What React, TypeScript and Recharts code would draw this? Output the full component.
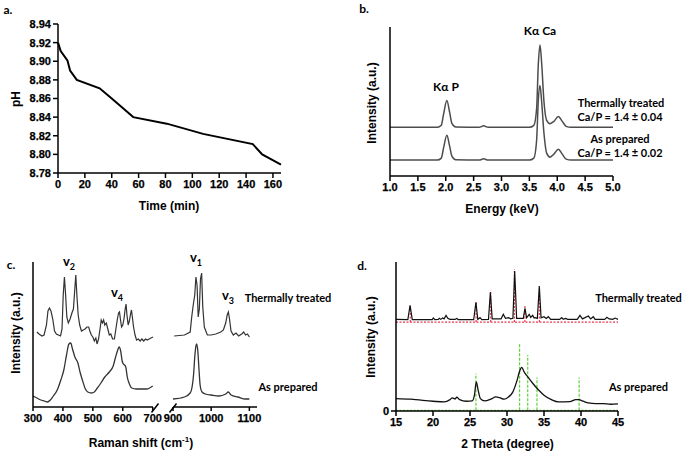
import React from 'react';
import { LineChart, Line, XAxis, YAxis, ReferenceLine } from 'recharts';

// ---------- Panel a: pH vs time ----------
const phTime = [0, 2, 7, 9, 14, 31, 40, 48, 56, 81, 108, 145, 152, 166];
const phValue = [8.92, 8.911, 8.901, 8.89, 8.88, 8.871, 8.86, 8.85, 8.84, 8.833, 8.822, 8.811, 8.8, 8.789];
const phTicks = [8.78, 8.8, 8.82, 8.84, 8.86, 8.88, 8.9, 8.92, 8.94];
const timeTicks = [0, 20, 40, 60, 80, 100, 120, 140, 160];

// ---------- Panel b: EDS ----------
const edsEnergyTT = [1.0, 1.85, 1.92, 1.96, 2.02, 2.07, 2.11, 2.18, 2.6, 2.68, 2.76, 3.5, 3.58, 3.63, 3.66, 3.69, 3.72, 3.76, 3.81, 3.87, 3.94, 4.02, 4.09, 4.16, 4.25, 5.0];
const edsValueTT = [49, 49, 51, 62, 76, 64, 53, 49.3, 49, 50.5, 49, 49, 51, 68, 112, 132, 114, 76, 56, 52.7, 55, 60, 55, 50, 49, 49];
const edsEnergyAP = [1.0, 1.85, 1.92, 1.96, 2.02, 2.07, 2.11, 2.18, 2.6, 2.68, 2.76, 3.5, 3.58, 3.63, 3.66, 3.69, 3.72, 3.76, 3.81, 3.87, 3.94, 4.02, 4.09, 4.16, 4.25, 5.0];
const edsValueAP = [16, 16, 18, 28, 41, 30, 20, 16.3, 16, 17.3, 16, 16, 18, 36, 76, 91, 75, 44, 23, 19, 22, 27, 22, 17, 16, 16];
const energyTicks = [1, 1.5, 2, 2.5, 3, 3.5, 4, 4.5, 5];

// ---------- Panel c: Raman ----------
const ramanShiftTTLow = [313, 320, 330, 337, 345, 350, 355, 360, 366, 372, 378, 385, 392, 397, 401, 405, 409, 413, 418, 424, 430, 435, 439, 443, 447, 451, 456, 462, 468, 474, 480, 486, 490, 495, 500, 505, 510, 514, 519, 524, 528, 532, 536, 540, 545, 550, 555, 560, 566, 572, 577, 582, 586, 589, 592, 596, 600, 604, 608, 611, 614, 618, 622, 626, 629, 632, 636, 641, 646, 652, 658, 664, 670, 676, 682, 688, 694, 701];
const ramanValueTTLow = [75, 73, 71, 72, 82, 96, 99, 96, 88, 76, 73, 72, 71, 78, 112, 130, 112, 90, 84, 88, 94, 98, 115, 132, 110, 92, 82, 76, 77, 78, 80, 80, 76, 72, 70, 66, 69, 63, 68, 78, 87, 84, 87, 82, 84, 78, 72, 73, 68, 68, 78, 88, 94, 95, 88, 80, 82, 88, 98, 103, 92, 82, 86, 93, 97, 90, 80, 72, 67, 68, 66, 68, 66, 68, 67, 68, 69, 70];
const ramanShiftAPLow = [300, 313, 326, 338, 348, 358, 368, 381, 393, 403, 412, 420, 426, 432, 440, 450, 458, 466, 475, 483, 495, 505, 515, 527, 540, 555, 568, 576, 582, 588, 593, 598, 602, 606, 610, 615, 621, 630, 645, 660, 680, 700];
const ramanValueAPLow = [11, 9, 7, 6, 5, 7, 11, 17, 27, 37, 52, 63, 64, 58, 50, 44, 34, 26, 18, 15, 14, 15, 19, 24, 30, 35, 41, 50, 56, 60, 56, 46, 43, 42, 40, 30, 24, 19, 18, 18, 18, 21];
const ramanShiftTTHigh = [903, 930, 945, 949, 953, 957, 960, 963, 966, 969, 972, 975, 978, 982, 990, 1000, 1012, 1025, 1032, 1038, 1042, 1045, 1048, 1052, 1058, 1065, 1072, 1080, 1085, 1090, 1095, 1100];
const ramanValueTTHigh = [71, 72, 75, 90, 102, 112, 130, 122, 90, 98, 128, 134, 100, 80, 72, 72, 73, 75, 77, 84, 92, 95, 88, 76, 72, 74, 71, 73, 75, 72, 73, 70];
const ramanShiftAPHigh = [900, 930, 945, 950, 954, 957, 960, 962, 965, 968, 971, 976, 985, 1000, 1020, 1038, 1045, 1052, 1070, 1090, 1100];
const ramanValueAPHigh = [8, 10, 14, 20, 33, 50, 61, 63, 56, 38, 22, 15, 13, 12, 11, 13, 15, 12, 10, 8, 8];
const ramanTicksLow = [300, 400, 500, 600, 700];
const ramanTicksHigh = [900, 1000, 1100];

// ---------- Panel d: XRD ----------
const xrdAngleTT = [15, 16.6, 16.9, 17.2, 19.9, 20.05, 20.25, 20.7, 20.86, 21.05, 21.3, 21.5, 21.76, 22.0, 22.3, 23.0, 23.2, 23.4, 25.5, 25.8, 26.05, 26.35, 26.6, 27.5, 27.75, 28.0, 29.2, 29.5, 29.8, 30.2, 30.5, 30.8, 31.04, 31.3, 32.2, 32.43, 32.65, 33.0, 33.2, 33.47, 33.65, 33.8, 34.1, 34.37, 34.6, 35.0, 35.3, 35.58, 35.9, 37.1, 37.4, 37.6, 37.9, 38.2, 39.5, 39.86, 40.2, 40.99, 41.3, 41.66, 41.9, 43.2, 43.5, 43.8, 44.3, 44.6, 45];
const xrdValueTT = [91, 90.8, 105, 90.8, 90.8, 92.5, 90.8, 91, 92, 91, 92.3, 91.5, 95, 92, 91, 91, 92, 90.8, 90.8, 108, 91, 92.7, 90.8, 91, 118, 91.5, 91.5, 96, 92, 92.7, 91.5, 92, 139, 92, 92, 102, 92.5, 96, 93, 95, 92.5, 92.7, 92, 124, 92.5, 93.7, 92, 93.7, 91, 91, 92.7, 91, 92, 91, 91, 95, 91.5, 94.3, 91.5, 93.7, 91, 91, 93, 91.5, 91, 92.3, 91];
const xrdAngleAP = [15, 17, 20, 21.5, 22.3, 22.6, 23, 23.2, 23.6, 24.5, 25.3, 25.6, 25.85, 26.1, 26.4, 27, 27.8, 28.5, 29, 29.6, 30.2, 30.8, 31.3, 31.8, 32, 32.3, 32.8, 33.5, 34.2, 35, 36, 37, 38.5, 39.3, 39.7, 40.3, 41, 42, 43, 44, 45];
const xrdValueAP = [12.3, 11.7, 9.7, 9, 11.3, 13, 12, 13.7, 11.3, 9.7, 10, 15.7, 29, 20.7, 12.3, 10, 11.7, 14, 13.3, 11.7, 14, 19, 29, 41.3, 43.3, 39, 34, 27.3, 21.3, 15.7, 11.3, 9, 9.3, 11.3, 11.3, 9.7, 8, 7.3, 7.3, 6.7, 7];
const refTTAngle = [16.93, 25.82, 27.8, 31.0, 32.42, 34.37];
const refTTHeight = [105, 108, 120, 141, 105, 124];
const refTTBase = 88.3;
const refAPAngle = [25.8, 31.7, 32.8, 34.05, 39.75];
const refAPHeight = [37.3, 67.3, 55.7, 33.3, 33.3];
const refAPBase = 0.7;
const thetaTicks = [15, 20, 25, 30, 35, 40, 45];

const toPts = (xs: number[], ys: number[]) => xs.map((x, i) => ({ x, y: ys[i] }));

const ARIAL = '"Liberation Sans", Arial, sans-serif';
const LATO = 'Lato, "Open Sans", sans-serif';
const AXL = { stroke: '#000', strokeWidth: 1.5 };

function BoldTick(props: any) {
  const { x, y, payload, textAnchor, verticalAnchor, digits } = props;
  const v = payload?.value;
  const label = typeof digits === 'number' ? Number(v).toFixed(digits) : String(v);
  const dy = verticalAnchor === 'start' ? '0.74em' : verticalAnchor === 'end' ? '0' : '0.36em';
  return (
    <text x={x} y={y} dy={dy} textAnchor={textAnchor} fontWeight="bold" style={{ fontFamily: ARIAL, fontWeight: 700, fontSize: 11, fill: '#000', stroke: '#000', strokeWidth: 0.25 }}>
      {label}
    </text>
  );
}

function Txt({ x, y, size = 11, font = LATO, rotate = false, children }: any) {
  return (
    <div
      style={{
        position: 'absolute',
        left: x,
        top: y,
        transform: `translate(-50%, -50%)${rotate ? ' rotate(-90deg)' : ''}`,
        fontFamily: font,
        fontWeight: 700,
        fontSize: size,
        lineHeight: 1,
        whiteSpace: 'nowrap',
        color: '#000',
      }}
    >
      {children}
    </div>
  );
}

function Box({ left, top, children }: any) {
  return <div style={{ position: 'absolute', left, top }}>{children}</div>;
}

export default function App() {
  const phData = toPts(phTime, phValue);
  return (
    <div style={{ position: 'absolute', left: 0, top: 0, width: 685, height: 455, background: '#fff', overflow: 'hidden' }}>
      {/* Panel a */}
      <Box left={0} top={0}>
        <LineChart width={300} height={230} margin={{ top: 24, right: 19, bottom: 27, left: 0 }}>
          <XAxis dataKey="x" type="number" domain={[0, 166]} ticks={timeTicks} interval={0} height={30} tick={<BoldTick />} tickSize={5} tickMargin={2} axisLine={AXL} tickLine={AXL} />
          <YAxis type="number" domain={[8.78, 8.94]} ticks={phTicks} interval={0} width={58} tick={<BoldTick digits={2} />} tickSize={5} tickMargin={2} axisLine={AXL} tickLine={AXL} />
          <Line data={phData} dataKey="y" type="linear" stroke="#000" strokeWidth={2} dot={false} isAnimationActive={false} />
        </LineChart>
      </Box>

      {/* Panel b */}
      <Box left={340} top={0}>
        <LineChart width={345} height={230} margin={{ top: 27, right: 72, bottom: 24, left: 0 }}>
          <XAxis dataKey="x" type="number" domain={[1, 5]} ticks={energyTicks} interval={0} height={30} tick={<BoldTick digits={1} />} tickSize={5} tickMargin={2} axisLine={AXL} tickLine={AXL} />
          <YAxis type="number" domain={[0, 150]} width={50} tick={false} tickLine={false} axisLine={AXL} />
          <Line data={toPts(edsEnergyTT, edsValueTT)} dataKey="y" type="monotone" stroke="#4d4d4d" strokeWidth={1.5} dot={false} isAnimationActive={false} />
          <Line data={toPts(edsEnergyAP, edsValueAP)} dataKey="y" type="monotone" stroke="#4d4d4d" strokeWidth={1.5} dot={false} isAnimationActive={false} />
        </LineChart>
      </Box>

      {/* Panel c left */}
      <Box left={0} top={230}>
        <LineChart width={168} height={225} margin={{ top: 32, right: 15, bottom: 18, left: 0 }}>
          <XAxis dataKey="x" type="number" domain={[300, 700]} ticks={ramanTicksLow} interval={0} height={30} tick={<BoldTick />} tickSize={4} tickMargin={3} axisLine={AXL} tickLine={AXL} />
          <YAxis type="number" domain={[0, 145]} width={33} tick={false} tickLine={false} axisLine={AXL} />
          <Line data={toPts(ramanShiftTTLow, ramanValueTTLow)} dataKey="y" type="linear" stroke="#333" strokeWidth={1.2} dot={false} isAnimationActive={false} />
          <Line data={toPts(ramanShiftAPLow, ramanValueAPLow)} dataKey="y" type="monotone" stroke="#333" strokeWidth={1.3} dot={false} isAnimationActive={false} />
        </LineChart>
      </Box>
      {/* Panel c right */}
      <Box left={160} top={230}>
        <LineChart width={125} height={225} margin={{ top: 32, right: 28, bottom: 18, left: 13 }}>
          <XAxis dataKey="x" type="number" domain={[900, 1120]} ticks={ramanTicksHigh} interval={0} height={30} tick={<BoldTick />} tickSize={4} tickMargin={3} axisLine={AXL} tickLine={AXL} />
          <YAxis type="number" domain={[0, 145]} hide />
          <Line data={toPts(ramanShiftTTHigh, ramanValueTTHigh)} dataKey="y" type="linear" stroke="#333" strokeWidth={1.2} dot={false} isAnimationActive={false} />
          <Line data={toPts(ramanShiftAPHigh, ramanValueAPHigh)} dataKey="y" type="monotone" stroke="#333" strokeWidth={1.3} dot={false} isAnimationActive={false} />
        </LineChart>
      </Box>
      <svg width={685} height={455} style={{ position: 'absolute', left: 0, top: 0, pointerEvents: 'none' }}>
        <line x1={151.5} y1={412.5} x2={158.5} y2={403.5} stroke="#000" strokeWidth={1.5} />
        <line x1={169.5} y1={412.5} x2={176.5} y2={403.5} stroke="#000" strokeWidth={1.5} />
      </svg>

      {/* Panel d */}
      <Box left={340} top={230}>
        <LineChart width={345} height={225} margin={{ top: 32, right: 67, bottom: 14, left: 0 }}>
          <XAxis dataKey="x" type="number" domain={[15, 45]} ticks={thetaTicks} interval={0} height={30} tick={<BoldTick />} tickSize={5} tickMargin={2} axisLine={AXL} tickLine={AXL} />
          <YAxis type="number" domain={[0, 148]} ticks={[0]} interval={0} width={56} tick={<BoldTick />} tickSize={5} tickMargin={2} axisLine={AXL} tickLine={AXL} />
          <ReferenceLine y={refTTBase} stroke="#e8394d" strokeWidth={1.2} strokeDasharray="2 1.5" />
          <ReferenceLine y={refAPBase} stroke="#5fd43a" strokeWidth={1.2} strokeDasharray="2 1.5" />
          {refTTAngle.map((a, i) => (
            <ReferenceLine key={'r' + i} segment={[{ x: a, y: refTTBase }, { x: a, y: refTTHeight[i] }]} stroke="#e8394d" strokeWidth={1.2} strokeDasharray="2 1.5" />
          ))}
          {refAPAngle.map((a, i) => (
            <ReferenceLine key={'g' + i} segment={[{ x: a, y: refAPBase }, { x: a, y: refAPHeight[i] }]} stroke="#5fd43a" strokeWidth={1.2} strokeDasharray="3 1.5" />
          ))}
          <Line data={toPts(xrdAngleTT, xrdValueTT)} dataKey="y" type="linear" stroke="#111" strokeWidth={1.2} dot={false} isAnimationActive={false} />
          <Line data={toPts(xrdAngleAP, xrdValueAP)} dataKey="y" type="monotone" stroke="#111" strokeWidth={1.3} dot={false} isAnimationActive={false} />
        </LineChart>
      </Box>

      {/* Texts panel a */}
      <Txt x={8} y={10} size={12}>a.</Txt>
      <Txt x={16} y={99} size={12} font={ARIAL} rotate>pH</Txt>
      <Txt x={169} y={206} size={12} font={ARIAL}>Time (min)</Txt>

      {/* Texts panel b */}
      <Txt x={364} y={9} size={12}>b.</Txt>
      <Txt x={372} y={103} size={12} font={ARIAL} rotate>Intensity (a.u.)</Txt>
      <Txt x={446} y={87} size={12}>Kα P</Txt>
      <Txt x={540} y={31} size={12}>Kα Ca</Txt>
      <Txt x={621} y={102} size={11}>Thermally treated</Txt>
      <Txt x={620} y={115.5} size={11}>Ca/P = 1.4 ± 0.04</Txt>
      <Txt x={620} y={138} size={11}>As prepared</Txt>
      <Txt x={620} y={151.5} size={11}>Ca/P = 1.4 ± 0.02</Txt>
      <Txt x={502} y={209} size={12} font={ARIAL}>Energy (keV)</Txt>

      {/* Texts panel c */}
      <Txt x={11} y={265} size={12}>c.</Txt>
      <Txt x={15.5} y={333} size={12} font={ARIAL} rotate>Intensity (a.u.)</Txt>
      <Txt x={69} y={263} size={13}>v<sub style={{ fontSize: 9 }}>2</sub></Txt>
      <Txt x={117} y={294} size={13}>v<sub style={{ fontSize: 9 }}>4</sub></Txt>
      <Txt x={196} y={259} size={13}>v<sub style={{ fontSize: 9 }}>1</sub></Txt>
      <Txt x={228} y={297} size={13}>v<sub style={{ fontSize: 9 }}>3</sub></Txt>
      <Txt x={288} y={296.5} size={11}>Thermally treated</Txt>
      <Txt x={288} y={385.5} size={11}>As prepared</Txt>
      <Txt x={141} y={442} size={12} font={ARIAL}>Raman shift (cm<sup style={{ fontSize: 8 }}>-1</sup>)</Txt>

      {/* Texts panel d */}
      <Txt x={362} y={265.5} size={12}>d.</Txt>
      <Txt x={371} y={337} size={12} font={ARIAL} rotate>Intensity (a.u.)</Txt>
      <Txt x={638.5} y={296.5} size={11}>Thermally treated</Txt>
      <Txt x={638.5} y={385.5} size={11}>As prepared</Txt>
      <Txt x={507.5} y={444} size={12} font={ARIAL}>2 Theta (degree)</Txt>
    </div>
  );
}
